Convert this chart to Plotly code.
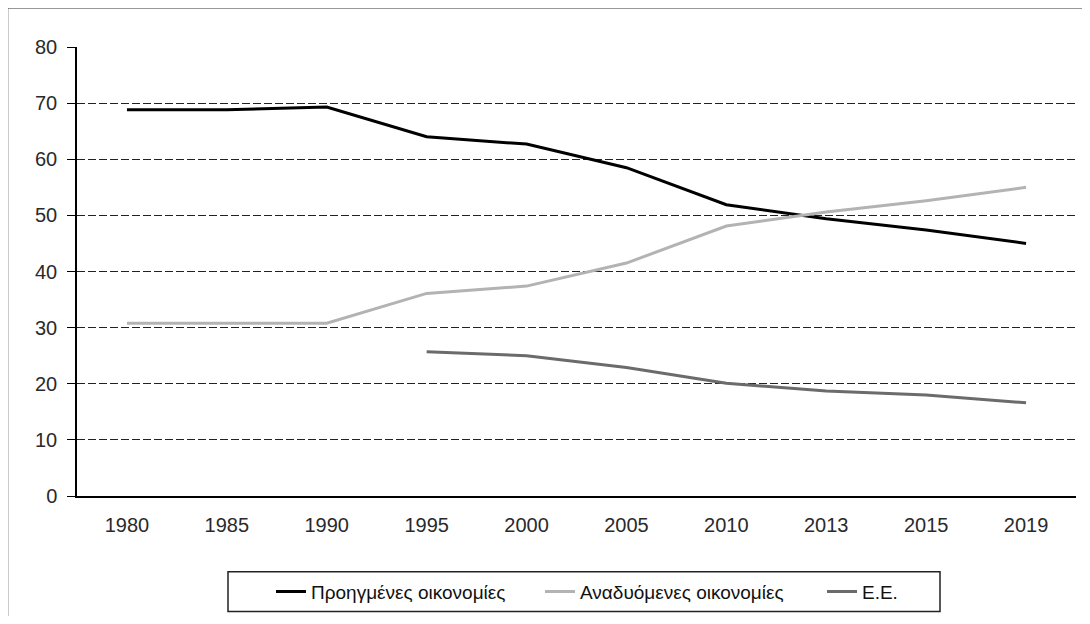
import plotly.graph_objects as go

years = ["1980", "1985", "1990", "1995", "2000", "2005", "2010", "2013", "2015", "2019"]
developed = [68.8, 68.8, 69.3, 64.0, 62.7, 58.5, 51.9, 49.4, 47.4, 45.0]
emerging = [30.8, 30.8, 30.8, 36.1, 37.4, 41.5, 48.1, 50.6, 52.6, 55.0]
eu_years = ["1995", "2000", "2005", "2010", "2013", "2015", "2019"]
eu = [25.7, 25.0, 22.9, 20.1, 18.7, 18.0, 16.6]

names = ["Προηγμένες οικονομίες", "Αναδυόμενες οικονομίες", "Ε.Ε."]
colors = ["#000000", "#b3b3b3", "#6b6b6b"]
legend_widths = [224, 237, 40]

fig = go.Figure()
fig.add_trace(go.Scatter(x=years, y=developed, mode="lines", name=names[0],
                         legendwidth=legend_widths[0],
                         line=dict(color=colors[0], width=3)))
fig.add_trace(go.Scatter(x=years, y=emerging, mode="lines", name=names[1],
                         legendwidth=legend_widths[1],
                         line=dict(color=colors[1], width=3)))
fig.add_trace(go.Scatter(x=eu_years, y=eu, mode="lines", name=names[2],
                         legendwidth=legend_widths[2],
                         line=dict(color=colors[2], width=3)))

# the page body has an 8px margin, so the figure is sized/offset to compensate
OFF = 8
W, H = 1074, 608
L, T = 69, 39
pw, ph = 999, 451
R = W - L - pw
B = H - T - ph
plot_bottom = T + ph  # figure px of y=0


def px_x(page_x):
    return (page_x - OFF - L) / pw


def px_y(page_y):
    return (plot_bottom - (page_y - OFF)) / ph


fig.update_layout(
    width=W, height=H,
    margin=dict(l=L, r=R, t=T, b=B, pad=0),
    paper_bgcolor="white", plot_bgcolor="white",
    font=dict(family="Liberation Sans, Arial, sans-serif", size=20, color="#2a2a2a"),
    showlegend=True,
    legend=dict(orientation="h", x=px_x(271), xanchor="left",
                y=px_y(594), yanchor="middle",
                bgcolor="rgba(0,0,0,0)", borderwidth=0,
                font=dict(family="Liberation Sans Narrow, Arial Narrow, Liberation Sans, sans-serif",
                          size=19, color="#111111"),
                itemwidth=30, traceorder="normal"),
    xaxis=dict(type="category", categoryorder="array", categoryarray=years,
               range=[-0.5, 9.5], showgrid=False, showline=True,
               linecolor="#000000", linewidth=1.5, ticks="",
               ticklabelstandoff=10, zeroline=False),
    yaxis=dict(range=[0, 80], dtick=10, showgrid=True, gridcolor="#222222",
               griddash="8px,3px", gridwidth=1, showline=True, linecolor="#000000",
               linewidth=1.5, ticks="outside", ticklen=8, tickcolor="#000000",
               zeroline=False, ticklabelstandoff=6),
    shapes=[
        # outer chart frame
        dict(type="rect", xref="paper", yref="paper",
             x0=px_x(7.5), x1=px_x(1110), y0=px_y(650), y1=px_y(7.5),
             line=dict(color="#333333", width=1.5), fillcolor="rgba(0,0,0,0)",
             layer="below"),
        # legend frame
        dict(type="rect", xref="paper", yref="paper",
             x0=px_x(228), x1=px_x(940), y0=px_y(614), y1=px_y(574),
             line=dict(color="#222222", width=1.5), fillcolor="rgba(0,0,0,0)",
             layer="below"),
    ],
)

fig.write_html("out.html")
